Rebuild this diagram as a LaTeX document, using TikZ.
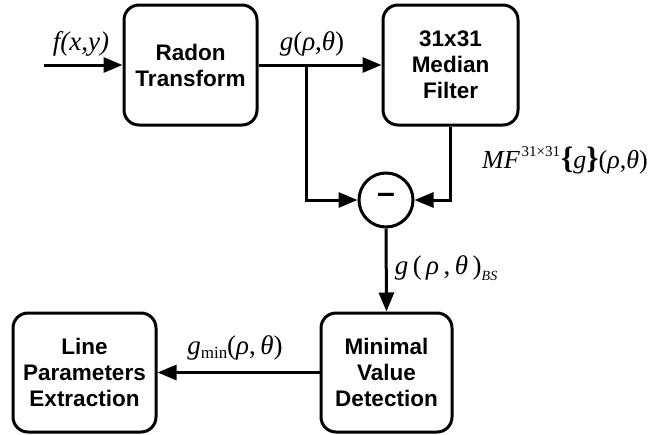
\documentclass[tikz,border=0pt]{standalone}
\usepackage{fontspec}
\setmainfont{Liberation Sans}
\newfontfamily\lserif{Liberation Serif}
\usetikzlibrary{arrows.meta,calc}
\tikzset{
  block/.style={draw, line width=3pt, rounded corners=15pt, align=center,
    font=\fontsize{22.5}{26}\selectfont\bfseries, inner sep=0pt},
  flow/.style={line width=3pt, -{Triangle[length=19pt,width=15pt]}},
  sig/.style={font=\fontsize{27}{30}\selectfont\lserif, inner sep=0pt},
}
\begin{document}
\begin{tikzpicture}[x=1pt,y=-1pt]
\useasboundingbox[fill=white] (0,0) rectangle (652,434);

% processing blocks
\node[block, minimum width=133pt, minimum height=120pt] (radon) at (190.5,65) {Radon\\Transform};
\node[block, minimum width=135pt, minimum height=120pt] (median) at (450.5,65) {31x31\\Median\\Filter};
\node[draw, circle, line width=3pt, minimum size=54pt, inner sep=0pt,
      font=\fontsize{32}{32}\selectfont\bfseries] (sub) at (386,200) {\raisebox{0.15ex}{–}};
\node[block, minimum width=131pt, minimum height=119pt] (minval) at (386.5,372.5) {Minimal\\Value\\Detection};
\node[block, minimum width=143pt, minimum height=119pt] (lpe) at (84.5,372.5) {Line\\Parameters\\Extraction};

% connectors
\coordinate (in) at (44,65);
\coordinate (split) at (306,65);
\draw[flow] (in) -- (radon.west);
\draw[flow] (radon.east) -- (median.west);
\draw[flow] (split) |- (sub.west);
\draw[flow] (median.south) |- (sub.east);
\draw[flow] (sub.south) -- (minval.north);
\draw[flow] (minval.west) -- (lpe.east);

% signal labels
\node[sig] (lf) at (81,44) {\itshape f(x,y)};
\node[sig] (lg) at (312,44) {\itshape g\upshape(\itshape ρ\upshape,\itshape θ\upshape)};
\node[sig, anchor=west, font=\fontsize{26}{28}\selectfont\lserif] (lmf) at (482,160) {\itshape MF\kern2pt\raisebox{1.0ex}{\upshape\fontsize{15}{15}\selectfont 31×31}\kern1pt\upshape{\bfseries\fontsize{31}{31}\selectfont\{}\itshape g\upshape{\bfseries\fontsize{31}{31}\selectfont\}}(\itshape ρ\upshape,\itshape θ\upshape)};
\node[sig] (lbs) at (446,268) {\itshape g\,\upshape(\,\itshape ρ\,\upshape,\,\itshape θ\,\upshape)\raisebox{-0.5ex}{\itshape\fontsize{14}{14}\selectfont BS}};
\node[sig] (lmin) at (235,348) {\itshape g\upshape\raisebox{-0.35ex}{\fontsize{17}{17}\selectfont min}(\itshape ρ\upshape,\,\itshape θ\upshape)};
\end{tikzpicture}
\end{document}
